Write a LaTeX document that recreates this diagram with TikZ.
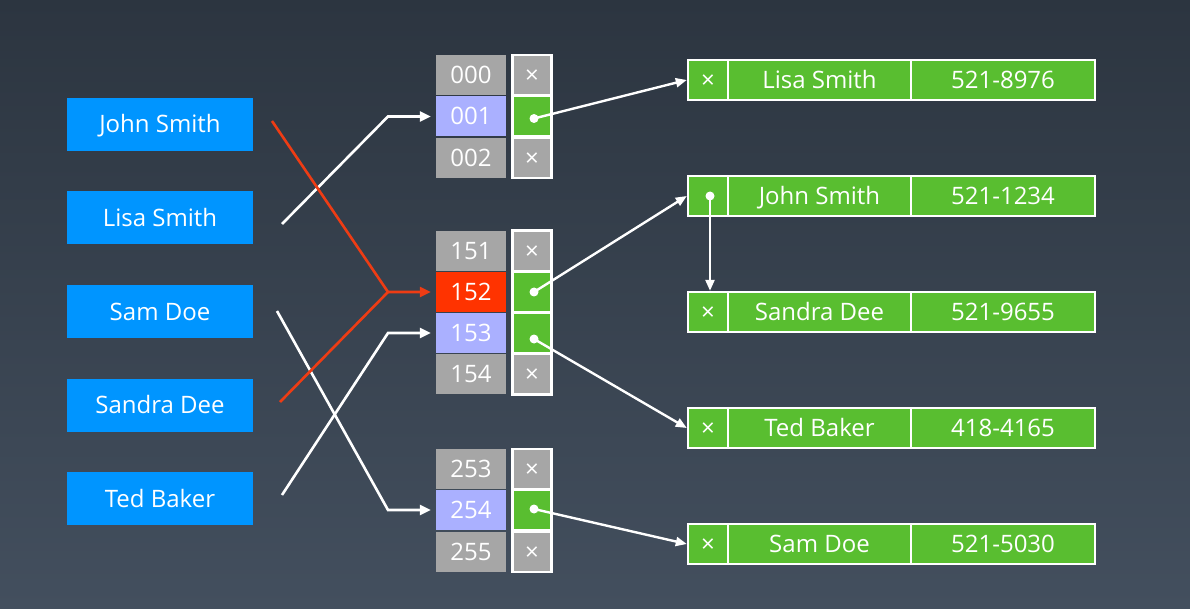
\documentclass[tikz,border=0pt]{standalone}
\usepackage{fontspec}
\setmainfont{Open Sans}
\usetikzlibrary{arrows.meta,calc}
\definecolor{bgtop}{HTML}{2C3540}
\definecolor{bgbot}{HTML}{434F5E}
\definecolor{nblue}{HTML}{0095FF}
\definecolor{cgray}{HTML}{A6A6A6}
\definecolor{clav}{HTML}{AAB0FF}
\definecolor{cred}{HTML}{FF3300}
\definecolor{lred}{HTML}{EE3C14}
\definecolor{cgreen}{HTML}{59BE30}
\begin{document}
\begin{tikzpicture}[x=1pt,y=-1pt,
  txt/.style={text=white,inner sep=0pt,text height=17pt,text depth=0pt,font=\fontsize{24}{28}\selectfont},
  namebox/.style={txt,fill=nblue,minimum width=186pt,minimum height=53pt},
  idx/.style={txt,fill=cgray,minimum width=70pt,minimum height=40pt},
  ptr/.style={txt,fill=cgray,minimum width=36pt,minimum height=38pt},
  ptrframe/.style={fill=white,minimum width=42pt,inner sep=0pt},
  rec/.style={fill=white,minimum width=409pt,minimum height=42pt,inner sep=0pt},
  rcell/.style={txt,fill=cgreen,minimum height=38pt},
  rx/.style={rcell,minimum width=38pt},
  rname/.style={rcell,minimum width=181pt},
  rnum/.style={rcell,minimum width=182pt},
  wline/.style={draw=white,line width=2.6pt},
  rline/.style={draw=lred,line width=2.6pt},
  harrow/.style={-{Triangle[length=11pt,width=10pt]},shorten >=5pt},
  parrow/.style={draw=white,line width=2.4pt,-{Triangle[length=11pt,width=9pt]}},
  dot/.style={circle,fill=white,inner sep=0pt,minimum size=9pt}
]
\useasboundingbox (0,0) rectangle (1190,609);
\fill[top color=bgtop,bottom color=bgbot] (0,0) rectangle (1190,609);

% names
\node[namebox] (js) at (160,124.5) {John Smith};
\node[namebox] (ls) at (160,218) {Lisa Smith};
\node[namebox] (sd) at (160,311.5) {Sam Doe};
\node[namebox] (sa) at (160,405) {Sandra Dee};
\node[namebox] (tb) at (160,498.5) {Ted Baker};

% frames
\node[ptrframe,minimum height=125pt] (f1) at (532,116.5) {};
\node[ptrframe,minimum height=166pt] (f2) at (532,312.5) {};
\node[ptrframe,minimum height=125pt] (f3) at (532,510) {};

% group 1
\node[idx] (i000) at (471,75) {000};
\node[idx,fill=clav] (i001) at (471,116.5) {001};
\node[idx] (i002) at (471,158) {002};
\node[ptr] (p000) at (532,75) {×};
\node[ptr,fill=cgreen] (p001) at (532,116.5) {};
\node[ptr] (p002) at (532,158) {×};
% group 2
\node[idx] (i151) at (471,251) {151};
\node[idx,fill=cred] (i152) at (471,292) {152};
\node[idx,fill=clav] (i153) at (471,333) {153};
\node[idx] (i154) at (471,374) {154};
\node[ptr] (p151) at (532,251) {×};
\node[ptr,fill=cgreen] (p152) at (532,292) {};
\node[ptr,fill=cgreen] (p153) at (532,333) {};
\node[ptr] (p154) at (532,374) {×};
% group 3
\node[idx] (i253) at (471,468.5) {253};
\node[idx,fill=clav] (i254) at (471,510) {254};
\node[idx] (i255) at (471,551.5) {255};
\node[ptr] (p253) at (532,468.5) {×};
\node[ptr,fill=cgreen] (p254) at (532,510) {};
\node[ptr] (p255) at (532,551.5) {×};

% records
\foreach \n/\y/\nm/\num/\first in {rl/80/Lisa Smith/521-8976/×, rj/196/John Smith/521-1234/{}, rs/312/Sandra Dee/521-9655/×, rt/428/Ted Baker/418-4165/×, rm/544/Sam Doe/521-5030/×}{
  \node[rec] (\n) at (891.5,\y) {};
  \node[rx] (\n1) at (708,\y) {\first};
  \node[rname] (\n2) at (819.5,\y) {\nm};
  \node[rnum] (\n3) at (1003,\y) {\num};
}

% hash arrows
\coordinate (lsS) at (282,224);
\coordinate (lsB) at (388,116.5);
\coordinate (jsS) at (272,121);
\coordinate (rB) at (388,292);
\coordinate (saS) at (280,402);
\coordinate (sdS) at (277,311);
\coordinate (sdB) at (388,510);
\coordinate (tbS) at (282,495);
\coordinate (tbB) at (388,333);

\draw[wline,harrow] (lsS) -- (lsB) -- (i001.west);
\draw[wline,harrow] (sdS) -- (sdB) -- (i254.west);
\draw[wline,harrow] (tbS) -- (tbB) -- (i153.west);
\draw[rline,harrow] (jsS) -- (rB) -- (i152.west);
\draw[rline] (saS) -- (rB);

% pointer arrows
\node[dot] (d001) at (534,118.5) {};
\node[dot] (d152) at (534,292) {};
\node[dot] (d153) at (534,339) {};
\node[dot] (d254) at (534,509) {};
\node[dot] (dj) at (710,196) {};
\draw[parrow] (d001.center) -- (rl.west);
\draw[parrow] (d152.center) -- (rj.west);
\draw[parrow] (d153.center) -- (rt.west);
\draw[parrow] (d254.center) -- (rm.west);
\draw[parrow] (dj.center) -- (dj.center |- rs.north);
\end{tikzpicture}
\end{document}
